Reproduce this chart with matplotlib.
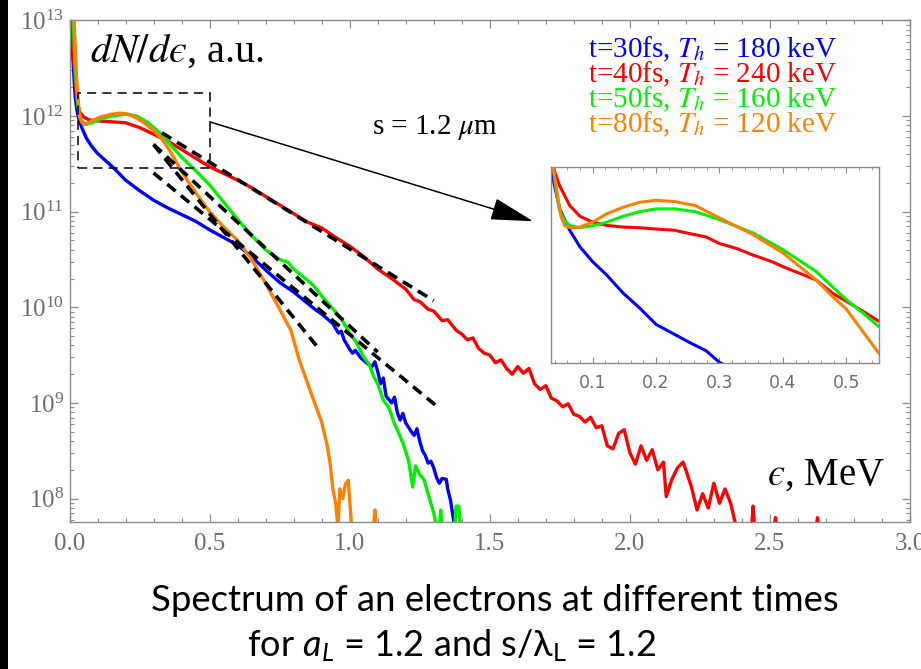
import numpy as np
import matplotlib.pyplot as plt
from matplotlib.patches import Rectangle
from matplotlib.ticker import LogLocator, MultipleLocator, NullFormatter, NullLocator, FormatStrFormatter

plt.rcParams['font.family'] = ['Liberation Serif', 'DejaVu Serif']
plt.rcParams['mathtext.fontset'] = 'stix'
plt.rcParams['mathtext.rm'] = 'Lato'
plt.rcParams['mathtext.it'] = 'Lato:italic'

# runs: time, hot temperature (MeV), colour
times_fs = [30, 40, 50, 80]
t_hot = [0.18, 0.24, 0.16, 0.12]
colors = ['#0000ff', '#ff0000', '#00f000', '#ff8000']

# spectra, energy in MeV and log10(dN/de)
e_blue = [0.005, 0.012, 0.02, 0.027, 0.035, 0.045, 0.06, 0.08, 0.1, 0.13, 0.16, 0.2, 0.25, 0.3,
          0.35, 0.4, 0.45, 0.5, 0.55, 0.6, 0.65, 0.7, 0.75, 0.8, 0.85, 0.88, 0.9, 0.92, 0.94,
          0.96, 0.97, 0.98, 1.0, 1.01, 1.02, 1.04, 1.06, 1.08, 1.09, 1.1, 1.11, 1.12, 1.13,
          1.15, 1.16, 1.17, 1.18, 1.19, 1.2, 1.22, 1.23, 1.24, 1.25, 1.26, 1.27, 1.28, 1.29,
          1.3, 1.31, 1.32, 1.33, 1.345, 1.35, 1.36, 1.375]
lg_blue = [13.1, 12.6, 12.2, 12.05, 11.95, 11.87, 11.77, 11.68, 11.61, 11.53, 11.45, 11.33, 11.22, 11.12,
           11.04, 10.97, 10.9, 10.81, 10.73, 10.65, 10.53, 10.39, 10.26, 10.16, 10.04, 9.97, 9.93, 9.88, 9.83,
           9.73, 9.75, 9.66, 9.56, 9.52, 9.55, 9.47, 9.42, 9.38, 9.43, 9.33, 9.2, 9.26, 9.07,
           9.0, 9.06, 8.9, 8.82, 8.89, 8.79, 8.7, 8.66, 8.73, 8.6, 8.5, 8.45, 8.37, 8.39,
           8.32, 8.22, 8.16, 8.21, 8.2, 8.1, 7.98, 7.7]

e_red = [0.008, 0.015, 0.025, 0.035, 0.05, 0.07, 0.1, 0.15, 0.2, 0.25, 0.3, 0.35, 0.4, 0.45, 0.5,
         0.55, 0.6, 0.65, 0.7, 0.75, 0.8, 0.85, 0.9, 0.95, 1.0, 1.05, 1.1, 1.15, 1.2, 1.23, 1.25,
         1.28, 1.3, 1.33, 1.35, 1.38, 1.4, 1.42, 1.44, 1.46, 1.48, 1.5, 1.52, 1.54, 1.56, 1.58,
         1.6, 1.62, 1.64, 1.66, 1.68, 1.7, 1.72, 1.74, 1.76, 1.78, 1.8, 1.82, 1.84, 1.86, 1.88,
         1.9, 1.92, 1.94, 1.96, 1.98, 2.0, 2.02, 2.04, 2.06, 2.08, 2.1, 2.12, 2.13, 2.15, 2.17,
         2.19, 2.2, 2.22, 2.24, 2.26, 2.28, 2.3, 2.32, 2.34, 2.36, 2.38,
         np.nan, 2.435, 2.44, 2.445, np.nan, 2.515, 2.52, 2.525, np.nan, 2.665, 2.67, 2.675]
lg_red = [13.1, 12.6, 12.2, 12.05, 11.99, 11.96, 11.95, 11.94, 11.93, 11.88, 11.81, 11.74, 11.65, 11.56, 11.47,
          11.4, 11.33, 11.25, 11.16, 11.07, 10.98, 10.89, 10.83, 10.73, 10.64, 10.53, 10.4, 10.3, 10.19, 10.08, 10.06,
          9.98, 9.96, 9.86, 9.87, 9.76, 9.72, 9.66, 9.68, 9.57, 9.52, 9.5, 9.42, 9.45, 9.36, 9.3,
          9.38, 9.31, 9.36, 9.2, 9.14, 9.18, 9.05, 9.02, 8.96, 8.99, 8.88, 8.86, 8.8, 8.85, 8.74,
          8.76, 8.55, 8.52, 8.68, 8.72, 8.48, 8.36, 8.55, 8.4, 8.51, 8.3, 8.38, 8.02, 8.2, 8.32,
          8.38, 8.3, 8.12, 7.88, 8.05, 7.9, 8.16, 7.95, 8.1, 7.95, 7.7,
          np.nan, 7.7, 7.92, 7.7, np.nan, 7.7, 7.8, 7.7, np.nan, 7.7, 7.8, 7.7]

e_green = [0.012, 0.02, 0.03, 0.04, 0.055, 0.08, 0.11, 0.15, 0.2, 0.24, 0.28, 0.32, 0.36, 0.4, 0.45,
           0.5, 0.55, 0.6, 0.65, 0.7, 0.75, 0.78, 0.8, 0.85, 0.87, 0.9, 0.92, 0.95, 0.97, 1.0, 1.02,
           1.05, 1.07, 1.085, 1.1, 1.12, 1.14, 1.16, 1.17, 1.19, 1.21, 1.225, 1.235, 1.25, 1.265,
           1.28, 1.3, 1.31, np.nan, 1.32, 1.325, 1.33, np.nan, 1.375, 1.38, 1.39, 1.395]
lg_green = [13.1, 12.5, 12.1, 11.97, 11.91, 11.93, 11.97, 12.0, 12.02, 12.0, 11.93, 11.83, 11.7, 11.57, 11.43,
            11.28, 11.1, 10.92, 10.75, 10.6, 10.5, 10.47, 10.4, 10.28, 10.23, 10.12, 10.05, 9.95, 9.88, 9.73, 9.65,
            9.48, 9.4, 9.28, 9.2, 9.03, 8.95, 8.78, 8.72, 8.58, 8.4, 8.12, 8.34, 8.25, 8.2,
            8.05, 7.85, 7.7, np.nan, 7.7, 7.88, 7.7, np.nan, 7.7, 7.92, 7.92, 7.7]

e_orange = [0.015, 0.025, 0.035, 0.045, 0.06, 0.08, 0.11, 0.15, 0.18, 0.21, 0.24, 0.27, 0.3, 0.33,
            0.36, 0.39, 0.42, 0.45, 0.5, 0.55, 0.6, 0.65, 0.7, 0.75, 0.79, 0.82, 0.86, 0.88, 0.9,
            0.92, 0.93, 0.94, 0.95, 0.958, 0.965, 0.975, 0.985, 0.995, 1.007,
            np.nan, 1.085, 1.09, 1.095]
lg_orange = [13.1, 12.4, 12.0, 11.93, 11.92, 11.95, 11.99, 12.02, 12.03, 12.02, 11.98, 11.92, 11.85, 11.76,
             11.63, 11.47, 11.33, 11.2, 11.0, 10.84, 10.7, 10.5, 10.25, 9.98, 9.76, 9.45, 9.12, 8.96, 8.8,
             8.55, 8.37, 8.1, 7.95, 7.7, 8.1, 8.0, 8.15, 8.19, 7.7,
             np.nan, 7.7, 7.88, 7.7]

# zoomed view of the low-energy bump
ein_blue = [0.034, 0.04, 0.048, 0.064, 0.08, 0.1, 0.122, 0.148, 0.174, 0.2, 0.253, 0.279, 0.3, 0.31]
lgin_blue = [12.3, 12.19, 12.05, 11.92, 11.82, 11.73, 11.65, 11.54, 11.45, 11.35, 11.24, 11.19, 11.12, 11.1]
ein_red = [0.036, 0.038, 0.048, 0.064, 0.08, 0.1, 0.122, 0.148, 0.174, 0.2, 0.23, 0.253, 0.279, 0.3,
           0.327, 0.353, 0.383, 0.4, 0.426, 0.452, 0.478, 0.5, 0.526, 0.551]
lgin_red = [12.4, 12.3, 12.19, 12.07, 12.005, 11.97, 11.95, 11.94, 11.936, 11.928, 11.92, 11.9, 11.88, 11.84,
            11.81, 11.77, 11.73, 11.7, 11.66, 11.62, 11.54, 11.49, 11.43, 11.37]
ein_green = [0.036, 0.038, 0.043, 0.048, 0.056, 0.064, 0.08, 0.1, 0.122, 0.148, 0.174, 0.2, 0.23, 0.262,
             0.3, 0.353, 0.4, 0.452, 0.5, 0.526, 0.551]
lgin_green = [12.4, 12.3, 12.15, 12.04, 11.98, 11.948, 11.936, 11.948, 11.969, 12.005, 12.033, 12.05, 12.05, 12.033,
              11.985, 11.904, 11.803, 11.672, 11.5, 11.42, 11.338]
ein_orange = [0.036, 0.038, 0.043, 0.05, 0.056, 0.067, 0.08, 0.1, 0.122, 0.148, 0.174, 0.2, 0.23, 0.262,
              0.3, 0.353, 0.4, 0.452, 0.478, 0.5, 0.52, 0.551]
lgin_orange = [12.4, 12.3, 12.17, 12.005, 11.948, 11.934, 11.94, 11.97, 12.02, 12.06, 12.09, 12.102, 12.094, 12.07,
               11.995, 11.894, 11.783, 11.621, 11.52, 11.443, 11.338, 11.177]

# exponential fits: energy range and one anchor point (e, log10)
fit_range = [(0.30, 1.305), (0.33, 1.30), (0.30, 1.10), (0.30, 0.89)]
fit_anchor = [(1.305, 8.98), (1.294, 10.08), (1.097, 9.54), (0.889, 9.57)]

spectra = [(e_blue, lg_blue), (e_red, lg_red), (e_green, lg_green), (e_orange, lg_orange)]
spectra_in = [(ein_blue, lgin_blue), (ein_red, lgin_red), (ein_green, lgin_green), (ein_orange, lgin_orange)]

fig = plt.figure(figsize=(9.21, 6.69), dpi=100)
ax = fig.add_axes([0.0755, 0.2197, 0.9125, 0.7497])

for (e, lg), c in zip(spectra, colors):
    ax.plot(e, 10 ** np.array(lg, dtype=float), color=c, lw=2.4, solid_joinstyle='round')

for (e0, e1), (ea, la), T in zip(fit_range, fit_anchor, t_hot):
    ee = np.array([e0, e1])
    ax.plot(ee, 10 ** (la - (ee - ea) / (T * np.log(10))), color='black', lw=2.6,
            dashes=(3.0, 1.9), zorder=5)

ax.set_yscale('log')
ax.set_xlim(0, 3.0)
ax.set_ylim(10 ** 7.754, 1e13)
ax.xaxis.set_major_locator(MultipleLocator(0.5))
ax.xaxis.set_minor_locator(MultipleLocator(0.1))
ax.xaxis.set_major_formatter(FormatStrFormatter('%.1f'))
ax.yaxis.set_major_locator(LogLocator(base=10, numticks=20))
ax.yaxis.set_minor_locator(LogLocator(base=10, subs=np.arange(2, 10), numticks=20))
ax.yaxis.set_minor_formatter(NullFormatter())

gray = '#8c8c8c'
for sp in ax.spines.values():
    sp.set_color(gray)
    sp.set_linewidth(1.0)
ax.tick_params(which='both', direction='in', top=True, right=True, color=gray, labelcolor='#6e6e6e')
ax.tick_params(which='major', length=6, width=0.9, labelsize=18)
ax.tick_params(which='minor', length=3, width=0.8)
ax.tick_params(axis='x', pad=8)
ax.tick_params(axis='y', pad=4)

# zoom box and arrow
ax.add_patch(Rectangle((0.03, 10 ** 11.46), 0.47, 10 ** 12.24 - 10 ** 11.46, fill=False,
                       ec='black', lw=1.1, ls=(0, (6, 4)), zorder=6))
ax.annotate('', xy=(1.655, 10 ** 10.9), xytext=(0.5, 10 ** 11.94),
            arrowprops=dict(arrowstyle='-|>,head_length=2.7,head_width=0.7', color='black',
                            lw=1.1, shrinkA=0, shrinkB=0), zorder=6)

ax.text(0.024, 0.917, '$dN/d\u03f5$, a.u.', transform=ax.transAxes, fontsize=29,
        va='baseline', ha='left')
ax.text(0.83, 0.074, '$\u03f5$, MeV', transform=ax.transAxes, fontsize=28,
        va='baseline', ha='left')
ax.text(0.36, 0.774, r's = 1.2 $\mu$m', transform=ax.transAxes, fontsize=21,
        va='baseline', ha='left')

for i, (t, T, c) in enumerate(zip(times_fs, t_hot, colors)):
    ax.text(0.617, 0.927 - i * 0.0498, f't={t}fs, $T_h$ = {T * 1000:.0f} keV',
            transform=ax.transAxes, fontsize=21, color=c, va='baseline', ha='left')

# inset
axi = fig.add_axes([0.598, 0.4574, 0.356, 0.293])
for (e, lg), c in zip(spectra_in, colors):
    axi.plot(e, 10 ** np.array(lg), color=c, lw=2.2)
axi.set_yscale('log')
axi.set_xlim(0.034, 0.551)
axi.set_ylim(10 ** 11.116, 10 ** 12.304)
axi.xaxis.set_major_locator(MultipleLocator(0.1))
axi.xaxis.set_minor_locator(MultipleLocator(0.02))
axi.xaxis.set_major_formatter(FormatStrFormatter('%.1f'))
axi.yaxis.set_major_locator(NullLocator())
axi.yaxis.set_minor_locator(NullLocator())
for sp in axi.spines.values():
    sp.set_color(gray)
    sp.set_linewidth(1.0)
axi.tick_params(which='both', direction='in', top=True, color=gray, labelcolor='#6e6e6e')
axi.tick_params(which='major', length=4, labelsize=12.5, pad=8)
axi.tick_params(which='minor', length=2.5)
for lbl in axi.get_xticklabels():
    lbl.set_family(['DejaVu Sans'])

# left border bar and caption
fig.add_artist(Rectangle((0, 0), 8 / 921, 1, transform=fig.transFigure, color='black', lw=0))
fig.text(0.5375, 1 - 611 / 669, 'Spectrum of an electrons at different times', fontsize=26.3,
         family=['Lato', 'DejaVu Sans'], ha='center', va='baseline')
fig.text(0.49, 1 - 656 / 669, r'for $a_L$ = 1.2 and s/λ$_\mathrm{L}$ = 1.2', fontsize=26,
         family=['Lato', 'DejaVu Sans'], math_fontfamily='custom', ha='center', va='baseline')

fig.savefig('out.png', dpi=100)
